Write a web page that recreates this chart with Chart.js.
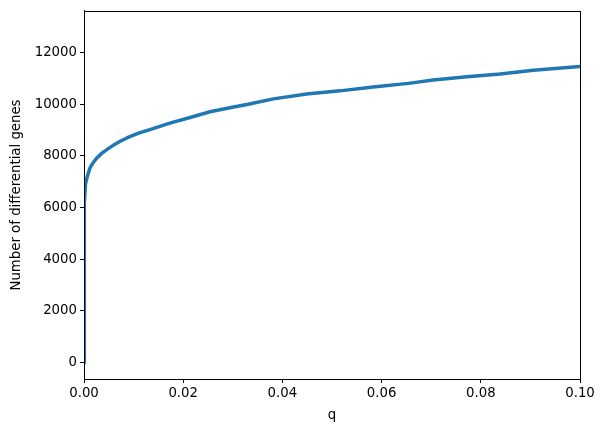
<!DOCTYPE html>
<html>
<head>
<meta charset="utf-8">
<script src="https://cdn.jsdelivr.net/npm/chart.js@4/dist/chart.umd.min.js"></script>
<style>
  html, body { margin: 0; padding: 0; background: #fff; }
</style>
</head>
<body>
<canvas id="myChart" width="605" height="432"></canvas>
<script>
// q threshold vs number of differential genes
const qValues = [0, 0.00003, 0.0001, 0.0003, 0.0006, 0.0012, 0.0018, 0.0026, 0.0035, 0.0046, 0.006, 0.0073,
  0.009, 0.011, 0.0133, 0.0173, 0.0214, 0.0254, 0.0294, 0.0331, 0.0382, 0.0449, 0.0516,
  0.0583, 0.0654, 0.0704, 0.0772, 0.0839, 0.0906, 0.1];
const geneCounts = [0, 5000, 6200, 6900, 7150, 7530, 7720, 7915, 8080, 8240, 8420, 8560,
  8720, 8877, 9010, 9260, 9480, 9700, 9860, 9990, 10200, 10390, 10510,
  10660, 10800, 10930, 11060, 11160, 11310, 11450];

const xTicks = [0, 0.02, 0.04, 0.06, 0.08, 0.10];
const yTicks = [0, 2000, 4000, 6000, 8000, 10000, 12000];

const font = { family: "DejaVu Sans", size: 13.3 };

// frame round the plot area, like matplotlib's spines
const framePlugin = {
  id: "frame",
  afterDraw(chart) {
    const a = chart.chartArea;
    const ctx = chart.ctx;
    ctx.save();
    ctx.strokeStyle = "#000";
    ctx.lineWidth = 1;
    ctx.strokeRect(a.left + 0.5, a.top + 0.5, a.right - a.left, a.bottom - a.top);
    ctx.restore();
  }
};

const data = {
  datasets: [{
    data: qValues.map((q, i) => ({ x: q, y: geneCounts[i] })),
    borderColor: "#1f77b4",
    backgroundColor: "#1f77b4",
    borderWidth: 3.5,
    pointRadius: 0,
    showLine: true,
    tension: 0,
    clip: 0,
  }],
};

const config = {
  type: "scatter",
  data: data,
  options: {
    responsive: false,
    animation: false,
    layout: { padding: { top: 9, right: 25, left: 0, bottom: 0 } },
    plugins: { legend: { display: false }, tooltip: { enabled: false } },
    scales: {
      x: {
        type: "linear",
        min: 0,
        max: 0.1,
        afterBuildTicks: s => { s.ticks = xTicks.map(v => ({ value: v })); },
        afterFit: s => { s.height = 53; },
        grid: { drawOnChartArea: false, drawTicks: true, tickLength: 4, tickColor: "#000" },
        border: { color: "#000" },
        ticks: { color: "#000", font: font, padding: 3, maxRotation: 0,
          callback: v => v.toFixed(2) },
        title: { display: true, text: "q", color: "#000", font: font, padding: { top: 2, bottom: 8 } },
      },
      y: {
        type: "linear",
        min: -635,
        max: 13600,
        afterBuildTicks: s => { s.ticks = yTicks.map(v => ({ value: v })); },
        afterFit: s => { s.width = 84; },
        grid: { drawOnChartArea: false, drawTicks: true, tickLength: 4, tickColor: "#000" },
        border: { color: "#000" },
        ticks: { color: "#000", font: font, padding: 3, callback: v => String(v) },
        title: { display: true, text: "Number of differential genes", color: "#000", font: font, padding: { top: 9, bottom: 4 } },
      },
    },
  },
  plugins: [framePlugin],
};

const myChart = new Chart(document.getElementById("myChart"), config);
</script>
</body>
</html>
